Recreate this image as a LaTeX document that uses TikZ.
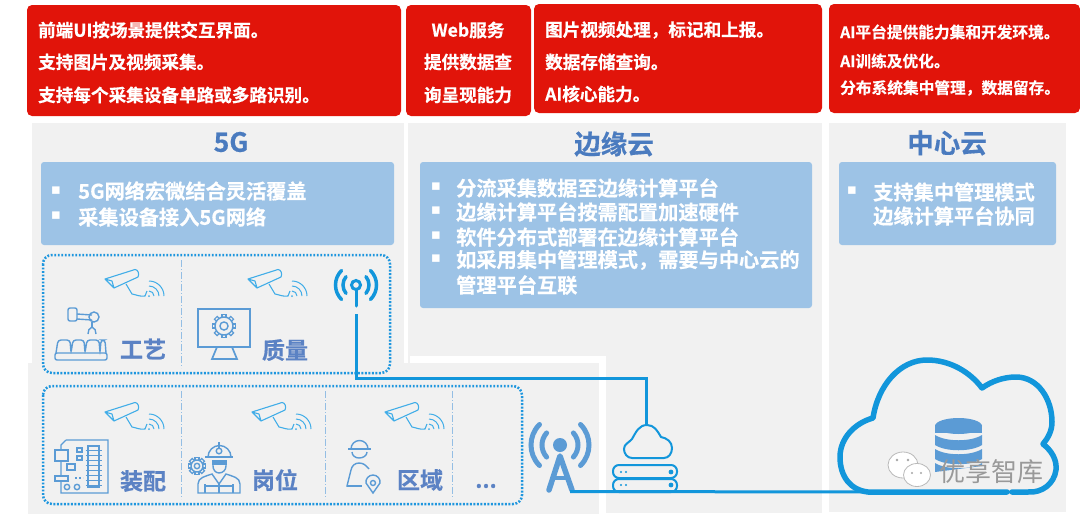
\documentclass[tikz,border=0pt]{standalone}
\usepackage{fontspec}
\setmainfont{Noto Sans CJK SC}[BoldFont={Noto Sans CJK SC Bold},BoldFeatures={FakeBold=0.5}]
\newfontfamily\dejavu{DejaVu Sans}
\usetikzlibrary{calc}
\definecolor{redbox}{HTML}{E1140A}
\definecolor{panel}{HTML}{F1F1F1}
\definecolor{bluebox}{HTML}{9DC3E6}
\definecolor{linkblue}{HTML}{1296DB}
\definecolor{iconblue}{HTML}{5B9BD5}
\definecolor{headblue}{HTML}{4A7BBF}
\definecolor{areablue}{HTML}{5B82C4}
\definecolor{camblue}{HTML}{41ADE8}
\definecolor{dotblue}{HTML}{1E96DE}
\newcommand{\fs}[1]{\fontsize{#1}{#1}\selectfont}
\tikzset{
  x=1pt,y=-1pt,
  redrect/.style={fill=redbox,rounded corners=5pt,draw=none},
  redtxt/.style={text=white,font=\bfseries\fs{17.6},inner sep=0pt},
  redtxtsm/.style={text=white,font=\bfseries\fs{15.7},inner sep=0pt},
  bluerect/.style={fill=bluebox,rounded corners=3pt,draw=none},
  bluetxt/.style={text=white,font=\bfseries\fs{20.2},inner sep=0pt,anchor=west},
  bullet/.style={text=white,font=\dejavu\fs{15},inner sep=0pt},
  head/.style={text=headblue,font=\bfseries\fs{26.5},inner sep=0pt},
  areatxt/.style={text=areablue,font=\bfseries\fs{23},inner sep=0pt},
  dotbox/.style={draw=dotblue,line width=2.5pt,dash pattern=on 1.9pt off 1.6pt,rounded corners=9pt},
  divider/.style={draw=iconblue!65,line width=.9pt,dash pattern=on 7pt off 2pt on 1pt off 2pt},
  link/.style={draw=linkblue,line width=3pt},
  ic/.style={draw=iconblue,line width=1.4pt,fill=none},
  pics/camera/.style={code={
    \draw[camblue,line width=1.1pt,line join=round] (0,10)--(30,0.5) to[out=0,in=60] (33,8)--(9,19)--cycle (0,10)--(7,12)--(9,19);
    \draw[camblue,line width=1.1pt] (21,15) -- (27,25) to[out=-10,in=190] (40,27) -- (42,22);
    \draw[camblue,line width=1pt] (44,27) ++(0:5) arc (0:-90:5) (44,27) ++(0:10) arc (0:-90:10) (44,27) ++(0:15) arc (0:-90:15);
    \fill[camblue] (44,27) circle (1pt);
  }},
  pics/gearicon/.style={code={
    \foreach \a in {0,45,...,315}{\draw[iconblue,line width=1.2pt,rotate=\a] (-2,-#1+1) rectangle (2,-#1-2.6);}
    \draw[iconblue,line width=1.4pt,fill=panel] (0,0) circle (#1);
    \draw[iconblue,line width=1.4pt] (0,0) circle (#1*.45);
  }},
}
\begin{document}
\begin{tikzpicture}
\useasboundingbox (0,0) rectangle (1080,520);
% panels
\fill[panel] (32,123) rectangle (404,364);
\fill[panel] (408,123) rectangle (822,513);
\fill[white] (410,356) rectangle (606,363);
\fill[panel] (28,363) rectangle (599,514);
\fill[white] (599,356) rectangle (606,514);
\fill[panel] (829,123) rectangle (1066,512);
% red boxes
\fill[redrect] (27,5) rectangle (401,116);
\fill[redrect] (406,5) rectangle (531,116);
\fill[redrect] (534,4) rectangle (822,113);
\fill[redrect] (829,4) rectangle (1080,113);
\node[redtxt,anchor=west] (r1a) at (38,30) {前端UI按场景提供交互界面。};
\node[redtxt,anchor=west] (r1b) at (38,62) {支持图片及视频采集。};
\node[redtxt,anchor=west] (r1c) at (38,95) {支持每个采集设备单路或多路识别。};
\node[redtxt] (r2a) at (468,30) {Web服务};
\node[redtxt] (r2b) at (468,62) {提供数据查};
\node[redtxt] (r2c) at (468,95) {询呈现能力};
\node[redtxt,anchor=west] (r3a) at (545,30) {图片视频处理，标记和上报。};
\node[redtxt,anchor=west] (r3b) at (545,62) {数据存储查询。};
\node[redtxt,anchor=west] (r3c) at (545,94) {AI核心能力。};
\node[redtxtsm,anchor=west] (r4a) at (840,32) {AI平台提供能力集和开发环境。};
\node[redtxtsm,anchor=west] (r4b) at (840,61) {AI训练及优化。};
\node[redtxtsm,anchor=west] (r4c) at (840,88) {分布系统集中管理，数据留存。};
% headings
\node[head] (h1) at (231,142) {5G};
\node[head] (h2) at (614,144) {边缘云};
\node[head] (h3) at (947,143) {中心云};
% blue boxes
\fill[bluerect] (41,162) rectangle (394,245);
\fill[bluerect] (420,162) rectangle (812,308);
\fill[bluerect] (839,162) rectangle (1056,245);
\node[bullet] (b1) at (56,191) {▪};
\node[bullet] (b2) at (56,216) {▪};
\node[bluetxt] (t1) at (78,191) {5G网络宏微结合灵活覆盖};
\node[bluetxt] (t2) at (78,217) {采集设备接入5G网络};
\node[bullet] (b3) at (436,187) {▪};
\node[bullet] (b4) at (436,211) {▪};
\node[bullet] (b5) at (436,236) {▪};
\node[bullet] (b6) at (436,259) {▪};
\node[bluetxt] (t3) at (456,188) {分流采集数据至边缘计算平台};
\node[bluetxt] (t4) at (456,212) {边缘计算平台按需配置加速硬件};
\node[bluetxt] (t5) at (456,237) {软件分布式部署在边缘计算平台};
\node[bluetxt] (t6) at (456,260) {如采用集中管理模式，需要与中心云的};
\node[bluetxt] (t7) at (456,285) {管理平台互联};
\node[bullet] (b7) at (852,191) {▪};
\node[bluetxt] (t8) at (873,192) {支持集中管理模式};
\node[bluetxt] (t9) at (873,216) {边缘计算平台协同};
% dotted groups
\draw[dotbox] (43,255) rectangle (390,373);
\draw[dotbox] (43,386) rectangle (522,504);
\draw[divider] (181,260) -- (181,368);
\draw[divider] (181,391) -- (181,499);
\draw[divider] (325,391) -- (325,499);
\draw[divider] (452,391) -- (452,499);
% cameras
\pic at (105,269) {camera};
\pic at (248,269) {camera};
\pic at (105,402) {camera};
\pic at (252,402) {camera};
\pic at (385,402) {camera};
% labels
\node[areatxt] (a1) at (143,349) {工艺};
\node[areatxt] (a2) at (285,350) {质量};
\node[areatxt] (a3) at (143,481) {装配};
\node[areatxt] (a4) at (275,480) {岗位};
\node[areatxt] (a5) at (420,480) {区域};
\node[text=areablue,font=\bfseries\fs{22},inner sep=0pt] (a6) at (486,486) {...};
% robot icon
\begin{scope}[ic]
\draw[rounded corners=2pt] (55,353) rectangle (107,360);
\draw[rounded corners=3pt] (56,353) -- (58,340) -- (70,340) -- (71,353) -- (73,340) -- (84,340) -- (85,353) -- (87,340) -- (99,340) -- (100,353) -- (101,340) -- (105,340) -- (106,353);
\draw[rounded corners=2pt] (68,308) -- (77,308) -- (77,321) -- (68,321) -- cycle;
\draw (77,314) -- (92,315) (77,319) -- (92,320);
\draw (94,317) circle (5);
\draw (92,322) -- (92,327);
\draw (88,334) to[out=90,in=200] (92,327) to[out=-20,in=90] (96,334);
\end{scope}
% monitor icon
\begin{scope}[ic]
\draw[line width=1.7pt] (198,309) rectangle (250,347);
\draw[line width=1.7pt] (217,347) -- (212,359) -- (237,359) -- (232,347);
\end{scope}
\pic at (224,326) {gearicon=9};
% board icon
\begin{scope}[ic]
\draw (66,440) -- (108,440) -- (108,493) -- (61,493) -- (61,481) (61,476) -- (61,461) (61,450) -- (61,445) -- (66,440);
\draw (55,450) rectangle (68,461);
\draw (55,476) rectangle (68,481);
\draw (88,446) rectangle (99,487);
\foreach \yy in {450,455,...,485}{\draw[line width=.7pt] (85.5,\yy) -- (101.5,\yy);}
\draw (77,448) rectangle (82,452) (77,456) rectangle (82,460);
\draw (67,464) rectangle (75,470);
\draw (67,487) circle (2.7) (77,487) circle (2.7);
\draw[line width=1.4pt,dash pattern=on 2pt off 2pt] (75,478) -- (83,478);
\end{scope}
% worker icon
\begin{scope}[ic]
\draw (205,457) -- (233,457);
\draw (208,457) arc (180:360:11.5);
\draw (213,460) -- (213,466) to[out=-90,in=180] (219,473) to[out=0,in=-90] (226,466) -- (226,460);
\fill[iconblue] (212,460) rectangle (227,465);
\draw (198,493) -- (198,484) to[out=90,in=200] (212,474) -- (219,484) -- (226,474) to[out=-20,in=90] (240,484) -- (240,493) -- cycle;
\draw (219,484) -- (219,493) (205,484) -- (205,493) (233,484) -- (233,493) (205,486) -- (233,486);
\draw (219,451) circle (2.8);
\draw (219,448) -- (219,442);
\end{scope}
\pic at (197,466) {gearicon=6};
% person icon
\begin{scope}[ic]
\draw (348,449) -- (371,449);
\draw (351,449) arc (180:360:8.5);
\draw (352,452) to[out=-90,in=180] (359,458) to[out=0,in=-90] (367,452);
\draw (352,486) -- (347,486) -- (351,470) to[out=80,in=180] (359,463) to[out=0,in=130] (369,469);
\draw (347,486) -- (362,486);
\draw (373,493) -- (366,483) to[out=100,in=180] (373,475) to[out=0,in=80] (380,483) -- cycle;
\draw (373,483) circle (2.5);
\end{scope}
% 5G antenna
\coordinate (antTop) at (356,285);
\coordinate (antFoot) at (356,314);
\begin{scope}[linkblue,line cap=round,line width=3.5pt]
\draw[line width=3pt] (antTop) circle (4.5);
\draw[line width=3pt] (356,290) -- (356,306);
\draw (antTop) ++(-40:13) arc (-40:40:13);
\draw (antTop) ++(140:13) arc (140:220:13);
\draw (antTop) ++(-45:20.5) arc (-45:45:20.5);
\draw (antTop) ++(135:20.5) arc (135:225:20.5);
\end{scope}
% tower
\begin{scope}[iconblue,line cap=round,line width=5pt]
\coordinate (towerC) at (560,445);
\fill (towerC) circle (7);
\draw (towerC) ++(-42:18) arc (-42:42:18);
\draw (towerC) ++(138:18) arc (138:222:18);
\draw (towerC) ++(-45:29) arc (-45:45:29);
\draw (towerC) ++(135:29) arc (135:225:29);
\draw[line join=round,line width=5.5pt] (549,490) -- (560,456) -- (572,490);
\draw[line width=3.5pt] (555,478) -- (566,478);
\end{scope}
\coordinate (towerFoot) at (570,491.5);
% edge cloud and servers
\begin{scope}[link,line width=2pt,fill=panel]
\draw (632,458) to[out=180,in=-90] (624,449) to[out=90,in=-130] (632,439) to[out=60,in=180] (647,425) to[out=0,in=120] (661,437) to[out=-10,in=90] (672,448) to[out=-90,in=0] (664,458) -- cycle;
\draw[rounded corners=6pt] (613,465) rectangle (677,478);
\draw[rounded corners=6pt] (613,479) rectangle (677,492);
\end{scope}
\fill[linkblue] (671,472) circle (2.4) (671,485) circle (2.4);
\fill[linkblue] (621,472) circle (1.1) (626,472) circle (1.1) (621,485) circle (1.1) (626,485) circle (1.1);
\coordinate (edgeTop) at (646,425);
% central cloud
\draw[linkblue,line width=5.5pt,line cap=round,line join=round]
 (1007,492) -- (868,492) .. controls (850,490) and (840,476) .. (840,457)
 .. controls (840,438) and (855,423) .. (873,418)
 .. controls (878,385) and (900,360) .. (927,360)
 .. controls (950,360) and (970,372) .. (982,388)
 .. controls (992,381) and (1004,377) .. (1016,377)
 .. controls (1038,377) and (1052,399) .. (1052,422)
 .. controls (1052,431) and (1048,438) .. (1043,444)
 .. controls (1052,451) and (1057,460) .. (1056,470)
 .. controls (1054,484) and (1042,493) .. (1028,492) -- (1012,492);
\coordinate (cloudFoot) at (868,492);
% database
\begin{scope}[iconblue]
\fill (935,426) rectangle (982,433);
\fill (958.5,426) ellipse (23.5 and 8);
\fill (935,435) .. controls (946,442) and (971,442) .. (982,435) -- (982,445) .. controls (971,452) and (946,452) .. (935,445) -- cycle;
\fill (935,449) .. controls (946,456) and (971,456) .. (982,449) -- (982,459) .. controls (971,466) and (946,466) .. (935,459) -- cycle;
\fill (935,463) .. controls (946,470) and (971,470) .. (982,463) -- (982,466) -- (935,472) -- cycle;
\end{scope}
% connectors
\draw[link] (antFoot) -- (356,378) -- (646,378) -- (edgeTop);
\draw[link] (towerFoot) -- (cloudFoot);
% watermark
\draw[gray!55,fill=white,line width=.8pt] (903,465) ellipse (15 and 13);
\draw[gray!55,fill=white,line width=.8pt] (917,475) ellipse (13.5 and 11.5);
\fill[gray!70] (897,460) circle (1.3) (908,460) circle (1.3) (912,473) circle (1.2) (921,473) circle (1.2);
\node[text=gray!80,font=\fs{26},inner sep=0pt,anchor=west] (wm) at (939,472) {优享智库};
\end{tikzpicture}
\end{document}
